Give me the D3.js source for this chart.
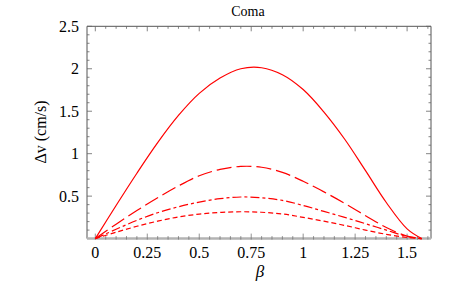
<!DOCTYPE html>
<html><head><meta charset="utf-8">
<script src="https://cdn.jsdelivr.net/npm/d3@7"></script>
<style>body{margin:0;background:#fff}svg text{font-family:"Liberation Serif","Times New Roman",serif;fill:#000}</style>
</head><body><svg id="c" width="463" height="286"></svg>
<script>
const betaSolid = [0,0.1,0.2,0.3,0.4,0.5,0.6,0.7,0.8,0.9,1.0,1.1,1.2,1.3,1.4,1.5,1.5708];
const vSolid    = [0,0.39,0.77,1.13,1.45,1.71,1.89,2.0,2.012,1.93,1.755,1.49,1.17,0.80,0.425,0.115,0];
const betaGrid  = [0,0.1,0.2,0.3,0.4,0.5,0.6,0.7,0.8,0.9,1.0,1.1,1.2,1.3,1.4,1.5,1.5708];
const vLongDash = [0,0.17,0.33,0.48,0.62,0.74,0.815,0.85,0.84,0.78,0.675,0.55,0.415,0.27,0.13,0.03,0];
const vDashDot  = [0,0.11,0.215,0.305,0.375,0.43,0.47,0.49,0.48,0.45,0.39,0.32,0.25,0.175,0.10,0.025,0];
const vDotted   = [0,0.075,0.145,0.205,0.255,0.288,0.308,0.316,0.31,0.29,0.25,0.205,0.155,0.1,0.05,0.013,0];
const xTicks = [0,0.25,0.5,0.75,1,1.25,1.5];
const xTickLabels = ["0","0.25","0.5","0.75","1","1.25","1.5"];
const yTicks = [0.5,1,1.5,2,2.5];
const yTickLabels = ["0.5","1","1.5","2","2.5"];
const title = "Coma", xLabel = "\u03B2", yLabel = "\u0394v (cm/s)";

const svg = d3.select("#c");
const x = d3.scaleLinear().domain([-0.04,1.615]).range([87,431]);
const y = d3.scaleLinear().domain([0,2.5]).range([238.6,26.3]);
const L = 87, R = 431, T = 26.3, B = 238.6;

const g = svg.append("g");
g.append("path").attr("d",`M${L},${B}V${T}H${R}V${B}`).attr("fill","none").attr("stroke","#555").attr("stroke-width",1);
const xMinor = d3.range(0,1.6001,0.05).map(v=>+v.toFixed(2));
xMinor.forEach(v=>{
  const maj = Math.abs(v/0.25-Math.round(v/0.25))<1e-6;
  const len = maj?5:2.5;
  g.append("line").attr("x1",x(v)).attr("x2",x(v)).attr("y1",T).attr("y2",T+len).attr("stroke","#666").attr("stroke-width",0.8);
});
const yMinor = d3.range(0.1,2.5001,0.1).map(v=>+v.toFixed(2));
yMinor.forEach(v=>{
  const maj = Math.abs(v/0.5-Math.round(v/0.5))<1e-6;
  const len = maj?5:2.5;
  g.append("line").attr("y1",y(v)).attr("y2",y(v)).attr("x1",L).attr("x2",L+len).attr("stroke","#666").attr("stroke-width",0.8);
  g.append("line").attr("y1",y(v)).attr("y2",y(v)).attr("x1",R).attr("x2",R-len).attr("stroke","#666").attr("stroke-width",0.8);
});
g.append("line").attr("x1",L).attr("x2",R).attr("y1",B).attr("y2",B).attr("stroke","#b3b3b3").attr("stroke-width",2.5);
xMinor.forEach(v=>{
  const maj = Math.abs(v/0.25-Math.round(v/0.25))<1e-6;
  g.append("line").attr("x1",x(v)).attr("x2",x(v)).attr("y1",B+1).attr("y2",B-(maj?5:2.5)).attr("stroke","#777").attr("stroke-width",0.8);
});

svg.append("g").selectAll("text").data(xTicks).join("text")
  .attr("x",d=>x(d)).attr("y",258).attr("text-anchor","middle").attr("font-size",16)
  .text((d,i)=>xTickLabels[i]);
svg.append("g").selectAll("text").data(yTicks).join("text")
  .attr("x",79).attr("y",d=>y(d)).attr("dy","0.35em").attr("text-anchor","end").attr("font-size",16)
  .text((d,i)=>yTickLabels[i]);

svg.append("text").attr("x",248).attr("y",16).attr("text-anchor","middle").attr("font-size",14).text(title);
svg.append("text").attr("x",260).attr("y",277).attr("text-anchor","middle").attr("font-size",17).attr("font-style","italic").text(xLabel);
svg.append("text").attr("transform","translate(46,132) rotate(-90)").attr("text-anchor","middle").attr("font-size",16).text(yLabel);

const line = d3.line().x(d=>x(d[0])).y(d=>y(d[1])).curve(d3.curveCatmullRom.alpha(0.5));
const series = [
  {b:betaSolid, v:vSolid, dash:null},
  {b:betaGrid, v:vLongDash, dash:"15,5"},
  {b:betaGrid, v:vDashDot, dash:"9,3,3,3"},
  {b:betaGrid, v:vDotted, dash:"5,3"}
];
series.forEach(s=>{
  svg.append("path").datum(s.b.map((b,i)=>[b,s.v[i]])).attr("d",line)
    .attr("fill","none").attr("stroke","#ff0000").attr("stroke-width",1.2)
    .attr("stroke-dasharray",s.dash);
});
</script></body></html>
